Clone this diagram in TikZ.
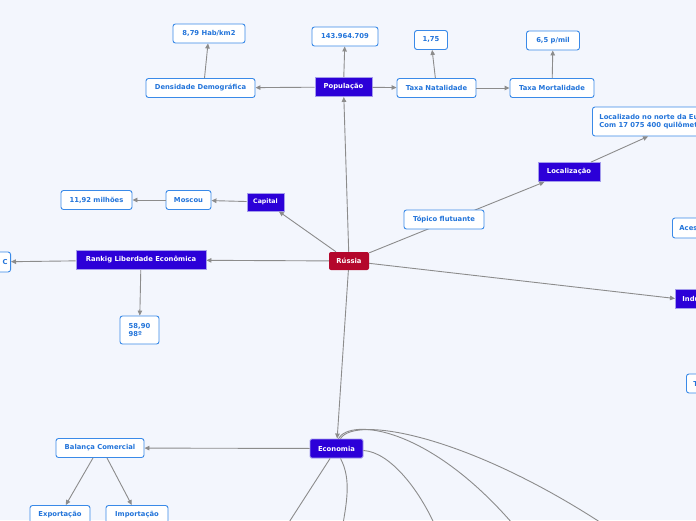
\documentclass[tikz,border=0pt]{standalone}
\usepackage{fontspec}
\setmainfont{DejaVu Sans}
\usetikzlibrary{arrows.meta}
\definecolor{bg}{HTML}{F3F6FD}
\definecolor{sub}{HTML}{2274DA}
\definecolor{subb}{HTML}{3A8AE8}
\definecolor{topic}{HTML}{2C00D8}
\definecolor{topicb}{HTML}{A49CEC}
\definecolor{root}{HTML}{B4072C}
\definecolor{link}{HTML}{8C8C8C}
\tikzset{
 lbl/.style={font=\fontsize{6.8}{8.4}\selectfont\bfseries},
 subnode/.style={lbl, draw=subb, line width=0.9pt, fill=white, rounded corners=2.5pt, text=sub, inner xsep=4pt, inner ysep=2pt, minimum height=19pt},
 topicnode/.style={lbl, draw=topicb, line width=0.9pt, fill=topic, text=white, inner xsep=4pt, inner ysep=2pt, minimum height=19pt},
 rootnode/.style={lbl, fill=root, rounded corners=2pt, text=white, inner xsep=4pt, minimum height=18pt},
 conn/.style={draw=link, line width=0.9pt, -{Triangle[length=5pt,width=4.5pt]}},
 curve/.style={draw=link, line width=0.9pt}
}
\begin{document}
\begin{tikzpicture}[x=1pt,y=-1pt]
\useasboundingbox (0,0) rectangle (696,520);
\fill[bg] (0,0) rectangle (696,520);
\clip (0,0) rectangle (696,520);

% nodes
\node[rootnode, minimum width=40pt] (russia) at (349,261) {Rússia};
\node[topicnode, minimum width=57pt] (pop) at (343.5,87) {População};
\node[subnode, minimum width=66pt] (habit) at (345,36.5) {143.964.709};
\node[subnode, minimum width=109pt] (dens) at (200.5,88) {Densidade Demográfica};
\node[subnode, minimum width=72pt] (d879) at (209,33.5) {8,79 Hab/km2};
\node[subnode, minimum width=79pt] (natal) at (436.5,88) {Taxa Natalidade};
\node[subnode, minimum width=33pt] (n175) at (431,40) {1,75};
\node[subnode, minimum width=84pt] (mort) at (552,88) {Taxa Mortalidade};
\node[subnode, minimum width=53pt] (n65) at (553,40.5) {6,5 p/mil};
\node[topicnode, minimum width=62pt] (loc) at (569,172) {Localização};
\node[subnode, anchor=west, align=left, minimum height=29pt, inner xsep=7pt] (locdesc) at (592,121.5) {Localizado no norte da Eurásia\\Com 17 075 400 quilômetros quadrados};
\node[subnode, anchor=west, minimum height=20pt, inner xsep=7pt] (acess) at (672,228) {Acesso};
\node[topicnode, anchor=west, inner xsep=7pt] (ind) at (675,298.5) {Indústria};
\node[subnode, anchor=west, inner xsep=7pt] (tnode) at (686,383.5) {Turismo};
\node[topicnode, minimum width=37pt, minimum height=18pt, font=\fontsize{6.2}{7}\selectfont\bfseries] (capital) at (265.5,202) {Capital};
\node[subnode, minimum width=45pt] (moscou) at (188.5,200) {Moscou};
\node[subnode, minimum width=71pt] (mil) at (96.5,200) {11,92 milhões};
\node[topicnode, minimum width=130pt] (rank) at (141,260) {Rankig Liberdade Econômica};
\node[subnode, anchor=east, text width=40pt, align=right, minimum height=20pt, inner xsep=3pt] (cnode) at (11,262) {C};
\node[subnode, minimum width=39pt, minimum height=28pt, align=left] (n5890) at (139.5,330) {58,90\\98º};
\node[topicnode, minimum width=53pt, rounded corners=1.5pt] (econ) at (336.5,448.5) {Economia};
\node[subnode, minimum width=88pt] (balanca) at (100,448) {Balança Comercial};
\node[subnode, minimum width=60pt] (export) at (60,515) {Exportação};
\node[subnode, minimum width=62pt] (import) at (137,515) {Importação};

% off-canvas ends
\coordinate (e1) at (284,530);
\coordinate (e2) at (342,530);
\coordinate (e3) at (437,530);
\coordinate (e4) at (518,530);
\coordinate (e5) at (612,530);

% connectors
\draw[conn] (russia) -- (pop);
\draw[conn] (pop) -- (habit);
\draw[conn] (pop) -- (dens);
\draw[conn] (dens.north) ++(4,0) -- (d879);
\draw[conn] (pop) -- (natal);
\draw[conn] (natal) -- (n175);
\draw[conn] (natal) -- (mort);
\draw[conn] (mort) -- (n65);
\draw[conn] (russia) -- (loc);
\draw[conn] (loc) -- (locdesc.south west -| 648,0);
\draw[conn] (russia) -- (ind.west);
\draw[conn] (russia) -- (capital);
\draw[conn] (capital) -- (moscou);
\draw[conn] (moscou) -- (mil);
\draw[conn] (russia) -- (rank);
\draw[conn] (rank) -- (cnode);
\draw[conn] (rank) -- (n5890);
\draw[conn] (russia) -- (econ);
\draw[conn] (econ) -- (balanca);
\draw[conn] (balanca.south) ++(-7,0) -- (export);
\draw[conn] (balanca.south) ++(7,0) -- (import);
\draw[curve] (econ) -- (e1);
\draw[curve] ([xshift=4pt]econ.south) .. controls (352,480) and (346,505) .. (e2);
\draw[curve] ([yshift=-2pt]econ.east) .. controls (390,452) and (420,490) .. (e3);
\draw[curve] ([xshift=2pt]econ.north) .. controls (350,418) and (430,425) .. (e4);
\draw[curve] ([xshift=4pt]econ.north) .. controls (355,415) and (470,435) .. (e5);

% floating topic drawn over the line
\node[subnode, minimum width=80pt] (topflut) at (444,219.5) {Tópico flutuante};
\end{tikzpicture}
\end{document}
